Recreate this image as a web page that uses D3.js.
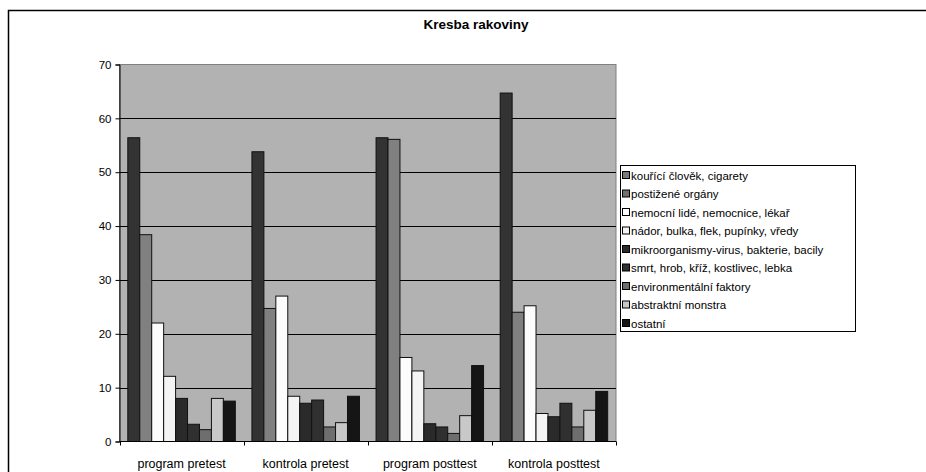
<!DOCTYPE html>
<html>
<head>
<meta charset="utf-8">
<script src="https://cdn.jsdelivr.net/npm/d3@7"></script>
<style>
  body { margin: 0; background: #fff; }
  svg { display: block; font-family: "Liberation Sans", Arial, sans-serif; }
</style>
</head>
<body>
<div id="chart"></div>
<script>
var groups = ["program pretest", "kontrola pretest", "program posttest", "kontrola posttest"];

var series = [
    "kouřící člověk, cigarety",
    "postižené orgány",
    "nemocní lidé, nemocnice, lékař",
    "nádor, bulka, flek, pupínky, vředy",
    "mikroorganismy-virus, bakterie, bacily",
    "smrt, hrob, kříž, kostlivec, lebka",
    "environmentální faktory",
    "abstraktní monstra",
    "ostatní"
];

// one array per group, in series order
var programPretest  = [56.4, 38.4, 22.0, 12.1, 8.0, 3.2, 2.2, 8.0, 7.5];
var kontrolaPretest = [53.8, 24.7, 27.0, 8.4, 7.1, 7.7, 2.7, 3.5, 8.4];
var programPosttest = [56.4, 56.1, 15.6, 13.1, 3.3, 2.7, 1.5, 4.8, 14.1];
var kontrolaPosttest = [64.7, 24.0, 25.2, 5.2, 4.6, 7.1, 2.7, 5.8, 9.3];

var yTicks = [0, 10, 20, 30, 40, 50, 60, 70];

var values = [programPretest, kontrolaPretest, programPosttest, kontrolaPosttest];

var barColors = ["#333333", "#808080", "#fcfcfc", "#f4f4f4", "#2a2a2a", "#303030", "#6e6e6e", "#c8c8c8", "#151515"];
var legendColors = ["#7a7a7a", "#707070", "#ffffff", "#f4f4f4", "#2a2a2a", "#303030", "#6e6e6e", "#c8c8c8", "#151515"];

var width = 926, height = 472;
var plot = {left: 119.5, right: 616, top: 64.5, bottom: 441.5};

var svg = d3.select("#chart")
    .append("svg")
    .attr("width", width)
    .attr("height", height);

// chart frame
svg.append("rect")
    .attr("x", 8.5)
    .attr("y", 10.5)
    .attr("width", 940)
    .attr("height", 480)
    .style("fill", "#fff")
    .style("stroke", "#000")
    .style("stroke-width", 1.5);

svg.append("text")
    .attr("x", 476)
    .attr("y", 28.5)
    .attr("text-anchor", "middle")
    .style("font-size", "13.5px")
    .style("font-weight", "bold")
    .text("Kresba rakoviny");

var x0 = d3.scaleBand()
    .domain(groups)
    .range([plot.left, plot.right])
    .paddingInner(0.134)
    .paddingOuter(0.067);

var x1 = d3.scaleBand()
    .domain(d3.range(series.length))
    .range([0, x0.bandwidth()]);

var y = d3.scaleLinear()
    .domain([0, 70])
    .range([plot.bottom, plot.top]);

// plot background
svg.append("rect")
    .attr("x", plot.left)
    .attr("y", plot.top)
    .attr("width", plot.right - plot.left)
    .attr("height", plot.bottom - plot.top)
    .style("fill", "#b2b2b2")
    .style("stroke", "#808080");

// gridlines
svg.selectAll(".grid")
    .data(yTicks.filter(function(d){ return d > 0 && d < 70; }))
    .enter()
    .append("line")
    .attr("class", "grid")
    .attr("x1", plot.left)
    .attr("x2", plot.right)
    .attr("y1", function(d){ return Math.round(y(d)) + 0.5; })
    .attr("y2", function(d){ return Math.round(y(d)) + 0.5; })
    .style("stroke", "#000")
    .style("stroke-width", 1);

// bars
var g = svg.selectAll(".group")
    .data(values)
    .enter()
    .append("g")
    .attr("class", "group")
    .attr("transform", function(d, i){ return "translate(" + x0(groups[i]) + ",0)"; });

g.selectAll("rect")
    .data(function(d){ return d; })
    .enter()
    .append("rect")
    .attr("x", function(d, i){ return x1(i); })
    .attr("width", x1.bandwidth())
    .attr("y", function(d){ return y(d); })
    .attr("height", function(d){ return y(0) - y(d); })
    .style("fill", function(d, i){ return barColors[i]; })
    .style("stroke", "#111")
    .style("stroke-width", 1);

// y axis
var yAxis = d3.axisLeft(y).tickValues(yTicks).tickSize(4).tickPadding(4);
svg.append("g")
    .attr("transform", "translate(" + plot.left + ",0)")
    .call(yAxis)
    .call(function(a){
        a.select(".domain").style("stroke", "#000");
        a.selectAll(".tick line").style("stroke", "#000");
        a.selectAll("text").style("font-size", "11.5px").style("fill", "#000")
            .style("font-family", "'Liberation Sans', Arial, sans-serif");
    });

// x axis: baseline, ticks at group boundaries, labels centered
var xAxisG = svg.append("g");
xAxisG.append("line")
    .attr("x1", plot.left)
    .attr("x2", plot.right)
    .attr("y1", plot.bottom)
    .attr("y2", plot.bottom)
    .style("stroke", "#000");

var step = (plot.right - plot.left) / groups.length;
xAxisG.selectAll(".xtick")
    .data(d3.range(groups.length + 1))
    .enter()
    .append("line")
    .attr("x1", function(d){ return Math.round(plot.left + d * step) + 0.5; })
    .attr("x2", function(d){ return Math.round(plot.left + d * step) + 0.5; })
    .attr("y1", plot.bottom)
    .attr("y2", plot.bottom + 4)
    .style("stroke", "#000");

xAxisG.selectAll(".xlabel")
    .data(groups)
    .enter()
    .append("text")
    .attr("x", function(d){ return x0(d) + x0.bandwidth() / 2; })
    .attr("y", 467.5)
    .attr("text-anchor", "middle")
    .style("font-size", "12.5px")
    .text(function(d){ return d; });

// legend
var legend = svg.append("g").attr("transform", "translate(620,165)");
legend.append("rect")
    .attr("x", 0.5)
    .attr("y", 0.5)
    .attr("width", 235)
    .attr("height", 166)
    .style("fill", "#fff")
    .style("stroke", "#000");

var items = legend.selectAll(".item")
    .data(series)
    .enter()
    .append("g")
    .attr("transform", function(d, i){ return "translate(0," + (10 + i * 18.5) + ")"; });

items.append("rect")
    .attr("x", 2.5)
    .attr("y", -3.5)
    .attr("width", 7)
    .attr("height", 7)
    .style("fill", function(d, i){ return legendColors[i]; })
    .style("stroke", "#000");

items.append("text")
    .attr("x", 11)
    .attr("y", 4.5)
    .style("font-size", "11.5px")
    .text(function(d){ return d; });
</script>
</body>
</html>
